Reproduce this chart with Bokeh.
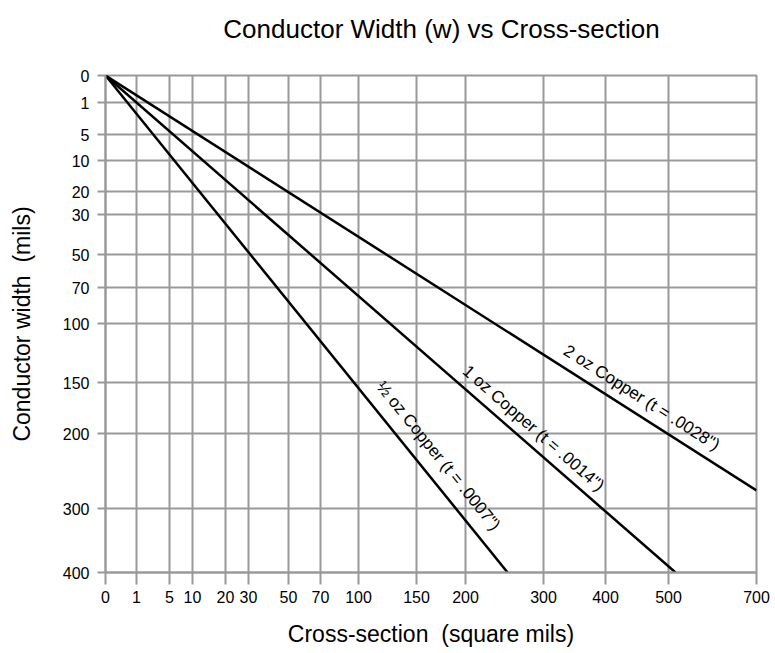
import math
import numpy as np
from bokeh.plotting import figure
from bokeh.models import Range1d, FixedTicker, ColumnDataSource, LinearAxis
from bokeh.core.properties import value
from bokeh.embed import file_html
from bokeh.resources import INLINE

# ---------------- data ----------------
title_text = "Conductor Width (w) vs Cross-section"
x_tick_values = [0, 1, 5, 10, 20, 30, 50, 70, 100, 150, 200, 300, 400, 500, 700]
y_tick_values = [0, 1, 5, 10, 20, 30, 50, 70, 100, 150, 200, 300, 400]

label_half = "½ oz Copper (t = .0007\")"
label_one = "1 oz Copper (t = .0014\")"
label_two = "2 oz Copper (t = .0028\")"

half_oz_area = [0, 254]
half_oz_width = [0, 400]
one_oz_area = [0, 516]
one_oz_width = [0, 400]
two_oz_area = [0, 700]
two_oz_width = [0, 276]

# ---------------- nonlinear axis scale (breakpoints along each axis) ----------------
X_LEN, Y_LEN = 651, 497
x_axis_pos = [0, 31, 64, 87, 120, 143, 183, 215, 253, 311, 360, 438, 500, 563, 651]
y_axis_pos = [0, 27, 59, 85, 116, 139, 179, 212, 248, 307, 358, 433, 497]
TITLE_X = 336  # horizontal centre of the title along the top edge


def sx(v):
    return np.interp(v, x_tick_values, x_axis_pos)


def sy(v):
    return np.interp(v, y_tick_values, y_axis_pos)


GRID = "#999999"
FONT = "Liberation Sans"

p = figure(width=770, height=652, output_backend="svg", toolbar_location=None,
           x_range=Range1d(0, X_LEN), y_range=Range1d(Y_LEN, 0),
           min_border_left=105, min_border_right=14, min_border_top=75, min_border_bottom=80)

p.outline_line_color = GRID
p.outline_line_width = 2
p.background_fill_color = "white"
p.border_fill_color = "white"

xa = p.below[0]
ya = p.left[0]
xa.ticker = FixedTicker(ticks=x_axis_pos)
ya.ticker = FixedTicker(ticks=y_axis_pos)
xa.major_label_overrides = {int(pos): str(v) for pos, v in zip(x_axis_pos, x_tick_values)}
ya.major_label_overrides = {int(pos): str(v) for pos, v in zip(y_axis_pos, y_tick_values)}

for ax in (xa, ya):
    ax.axis_line_color = GRID
    ax.axis_line_width = 2
    ax.major_tick_line_color = GRID
    ax.major_tick_line_width = 2
    ax.major_tick_in = 0
    ax.minor_tick_line_color = None
    ax.major_label_text_font = FONT
    ax.major_label_text_font_size = "16px"
    ax.major_label_text_color = "black"
    ax.axis_label_text_font = FONT
    ax.axis_label_text_font_size = "23px"
    ax.axis_label_text_font_style = "normal"
    ax.axis_label_text_color = "black"

xa.major_tick_out = 12
ya.major_tick_out = 8
xa.major_label_standoff = 6
ya.major_label_standoff = 8
xa.axis_label = "Cross-section \u00a0(square mils)"
ya.axis_label = "Conductor width \u00a0(mils)"
xa.axis_label_standoff = 15
ya.axis_label_standoff = 25

p.xgrid.grid_line_color = GRID
p.ygrid.grid_line_color = GRID
p.xgrid.grid_line_width = 2
p.ygrid.grid_line_width = 2

# chart title, carried by a bare axis along the top edge (no line, no tick marks)
title_axis = LinearAxis(ticker=FixedTicker(ticks=[TITLE_X]),
                        major_label_overrides={TITLE_X: title_text},
                        axis_line_color=None, major_tick_line_color=None,
                        minor_tick_line_color=None, major_tick_out=0, major_tick_in=0,
                        minor_tick_out=0, major_label_standoff=32,
                        major_label_text_font=FONT, major_label_text_font_size="26px",
                        major_label_text_color="black")
p.add_layout(title_axis, "above")

# (series, label, position along line, gap above line in px)
series = [
    (half_oz_area, half_oz_width, label_half, 0.79, 10),
    (one_oz_area, one_oz_width, label_one, 0.733, 6),
    (two_oz_area, two_oz_width, label_two, 0.81, 7),
]

tx, ty, tt, ta = [], [], [], []
for area, width, name, frac, gap in series:
    xs = sx(area)
    ys = sy(width)
    p.line(xs, ys, line_color="black", line_width=2.5)
    dx = xs[1] - xs[0]
    dy = ys[1] - ys[0]
    a = math.atan2(dy, dx)
    tx.append(xs[0] + frac * dx + gap * math.sin(a))
    ty.append(ys[0] + frac * dy - gap * math.cos(a))
    tt.append(name)
    ta.append(-a)

src = ColumnDataSource(dict(x=tx, y=ty, text=tt, angle=ta))
p.text(x="x", y="y", text="text", angle="angle", source=src,
       text_align="center", text_baseline="bottom",
       text_font=value(FONT), text_font_size="17px", text_color="black")

open("out.html", "w").write(file_html(p, INLINE))
